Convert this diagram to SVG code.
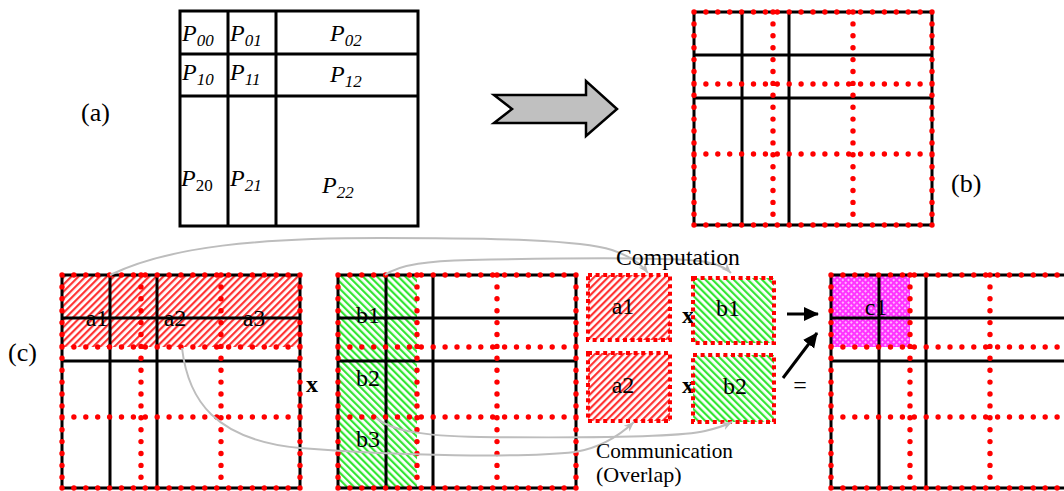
<svg xmlns="http://www.w3.org/2000/svg" xmlns:xlink="http://www.w3.org/1999/xlink" width="1064" height="491" viewBox="0 0 1064 491">
  <style>
    .ln { stroke: #000; stroke-width: 3; fill: none; }
    .dot { stroke: #f00; stroke-width: 5.4; stroke-linecap: round; stroke-dasharray: 0 11.9; fill: none; }
    .sq { stroke: #f00; stroke-width: 4; stroke-dasharray: 4 3.6; fill: none; }
    .t { font-family: "Liberation Serif", "Times New Roman", serif; font-size: 24px; fill: #000; }
    .lab { font-size: 26px; }
    .cap { font-size: 22px; }
    .pi { font-style: italic; }
    .sub { font-size: 17px; }
    .b { font-weight: bold; }
    .comm { fill: none; stroke: #bdbdbd; stroke-width: 2; marker-end: url(#ga); }
    .blk { fill: none; stroke: #000; stroke-width: 3; marker-end: url(#ba); }
  </style>
  <defs>
    <!-- diagonal hatches and cross-hatch fills -->
    <pattern id="hr" width="5" height="5" patternUnits="userSpaceOnUse" patternTransform="rotate(45)">
      <rect width="5" height="5" fill="#fff"/>
      <rect width="2.2" height="5" fill="#ff3333"/>
    </pattern>
    <pattern id="hg" width="5" height="5" patternUnits="userSpaceOnUse" patternTransform="rotate(-45)">
      <rect width="5" height="5" fill="#fff"/>
      <rect width="2.2" height="5" fill="#33e633"/>
    </pattern>
    <pattern id="hm" width="4" height="4" patternUnits="userSpaceOnUse" patternTransform="rotate(45)">
      <rect width="4" height="4" fill="#ff33ff"/>
      <rect x="1.2" y="1.2" width="1.6" height="1.6" fill="#fff"/>
    </pattern>
    <marker id="ga" markerWidth="12" markerHeight="10" refX="10" refY="4" orient="auto" markerUnits="userSpaceOnUse">
      <path d="M0,0 L10,4 L0,8 L3,4 Z" fill="#bdbdbd"/>
    </marker>
    <marker id="ba" markerWidth="16" markerHeight="16" refX="14" refY="7" orient="auto" markerUnits="userSpaceOnUse">
      <path d="M0,0 L15,7 L0,14 Z" fill="#000"/>
    </marker>
    <!-- partition grid: solid block boundaries plus dotted uniform 3x3 split -->
    <g id="grid">
      <path class="ln" d="M0,0H238V213H0Z M48,0V213 M95,0V213 M0,43H238 M0,86H238"/>
      <path class="dot" d="M0,0H238 M238,0V213 M0,213H238 M0,0V213 M79,0V213 M159,0V213 M0,72H238 M0,142H238"/>
    </g>
  </defs>

  <rect width="1064" height="491" fill="#fff"/>

  <!-- (a) original partition table -->
  <g id="table-a">
    <path class="ln" stroke-width="2.8" d="M180,11H418V226H180Z M228,11V226 M276,11V226 M180,54H418 M180,96H418"/>
    <text class="t pi" x="182" y="41">P<tspan class="sub" dy="5">00</tspan></text>
    <text class="t pi" x="230" y="41">P<tspan class="sub" dy="5">01</tspan></text>
    <text class="t pi" x="330" y="41">P<tspan class="sub" dy="5">02</tspan></text>
    <text class="t pi" x="182" y="80">P<tspan class="sub" dy="5">10</tspan></text>
    <text class="t pi" x="230" y="80">P<tspan class="sub" dy="5">11</tspan></text>
    <text class="t pi" x="330" y="82">P<tspan class="sub" dy="5">12</tspan></text>
    <text class="t pi" x="181" y="186">P<tspan class="sub" dy="5" font-style="normal">20</tspan></text>
    <text class="t pi" x="230" y="186">P<tspan class="sub" dy="5">21</tspan></text>
    <text class="t pi" x="322" y="193">P<tspan class="sub" dy="5">22</tspan></text>
  </g>
  <g id="label-a"><text class="t lab" x="81" y="121">(a)</text></g>

  <!-- block arrow -->
  <g id="block-arrow">
    <path d="M494,95 L586,95 L586,81 L617,109 L586,136 L586,123 L494,123 L512,109 Z" fill="#c0c0c0" stroke="#000" stroke-width="2.5" stroke-linejoin="miter"/>
  </g>

  <!-- (b) refined partition -->
  <g id="grid-b"><use xlink:href="#grid" href="#grid" transform="translate(694,12)"/></g>
  <g id="label-b"><text class="t lab" x="951" y="192">(b)</text></g>

  <!-- (c) row block of A -->
  <g id="label-c"><text class="t lab" x="8" y="361">(c)</text></g>
  <g id="grid-A">
    <rect x="62" y="275" width="237" height="72" fill="url(#hr)"/>
    <use xlink:href="#grid" href="#grid" transform="translate(62,275)"/>
    <text class="t" x="97" y="326" text-anchor="middle">a1</text>
    <text class="t" x="175" y="326" text-anchor="middle">a2</text>
    <text class="t" x="254" y="326" text-anchor="middle">a3</text>
  </g>
  <g id="times-1"><text class="t b" x="312" y="392" text-anchor="middle">x</text></g>

  <!-- column block of B -->
  <g id="grid-B">
    <rect x="338" y="275" width="79" height="212" fill="url(#hg)"/>
    <use xlink:href="#grid" href="#grid" transform="translate(338,275)"/>
    <text class="t" x="368" y="323" text-anchor="middle">b1</text>
    <text class="t" x="368" y="386" text-anchor="middle">b2</text>
    <text class="t" x="368" y="447" text-anchor="middle">b3</text>
  </g>

  <!-- blocks being multiplied -->
  <g id="blk-a1">
    <rect x="588" y="275" width="82" height="65" fill="url(#hr)"/>
    <rect class="sq" x="588" y="275" width="82" height="65"/>
    <text class="t" x="623" y="314" text-anchor="middle">a1</text>
  </g>
  <g id="blk-a2">
    <rect x="588" y="353" width="82" height="68" fill="url(#hr)"/>
    <rect class="sq" x="588" y="353" width="82" height="68"/>
    <text class="t" x="623" y="393" text-anchor="middle">a2</text>
  </g>
  <g id="times-2"><text class="t b" x="688" y="323" text-anchor="middle">x</text></g>
  <g id="times-3"><text class="t b" x="688" y="393" text-anchor="middle">x</text></g>
  <g id="blk-b1">
    <rect x="693" y="278" width="81" height="65" fill="url(#hg)"/>
    <rect class="sq" x="693" y="278" width="81" height="65"/>
    <text class="t" x="728" y="316" text-anchor="middle">b1</text>
  </g>
  <g id="blk-b2">
    <rect x="693" y="355" width="81" height="67" fill="url(#hg)"/>
    <rect class="sq" x="693" y="355" width="81" height="67"/>
    <text class="t" x="735" y="394" text-anchor="middle">b2</text>
  </g>
  <g id="equals"><text class="t" x="800" y="393" text-anchor="middle">=</text></g>

  <!-- result matrix C -->
  <g id="grid-C">
    <rect x="831" y="275" width="79" height="72" fill="url(#hm)"/>
    <use xlink:href="#grid" href="#grid" transform="translate(831,275)"/>
    <text class="t" x="876" y="315" text-anchor="middle">c1</text>
  </g>

  <!-- connectors -->
  <g id="connectors">
    <path class="comm" d="M110,275 C170,246 260,238 380,238 C500,238 580,240 612,250 C630,256 642,265 648,273"/>
    <path class="comm" d="M385,275 C400,264 430,261 470,260 C560,258 660,257 700,261 C715,263 726,268 731,273"/>
    <path class="comm" d="M182,348 C188,400 215,440 300,448 C400,456 520,458 575,452 C600,448 620,435 634,422"/>
    <path class="comm" d="M376,418 C390,430 420,436 480,437 C580,438 680,437 705,431 C718,428 726,425 732,422"/>
    <line class="blk" x1="787" y1="314" x2="818" y2="314"/>
    <line class="blk" x1="783" y1="378" x2="817" y2="333"/>
  </g>

  <!-- captions -->
  <g id="cap-computation"><text class="t" x="616" y="265" textLength="124" lengthAdjust="spacingAndGlyphs">Computation</text></g>
  <g id="cap-communication">
    <text class="t cap" x="596" y="458" textLength="137" lengthAdjust="spacingAndGlyphs">Communication</text>
    <text class="t cap" x="596" y="482">(Overlap)</text>
  </g>
</svg>
